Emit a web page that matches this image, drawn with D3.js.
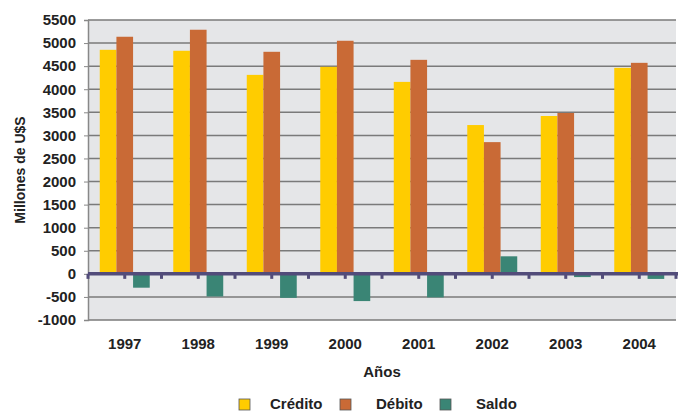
<!DOCTYPE html>
<html>
<head>
<meta charset="utf-8">
<script src="https://cdn.jsdelivr.net/npm/d3@7"></script>
<style>
  body { margin: 0; background: #fff; }
  text { font-family: "Liberation Sans", Arial, sans-serif; font-weight: bold; fill: #222; }
</style>
</head>
<body>
<div id="viz"></div>
<script>
const years = ['1997', '1998', '1999', '2000', '2001', '2002', '2003', '2004'];
const series = ['Crédito', 'Débito', 'Saldo'];
const credito = [4854, 4833, 4311, 4485, 4159, 3224, 3420, 4463];
const debito = [5137, 5289, 4811, 5050, 4637, 2854, 3485, 4572];
const saldo = [-300, -490, -520, -590, -510, 380, -70, -110];
const yTicks = [-1000, -500, 0, 500, 1000, 1500, 2000, 2500, 3000, 3500, 4000, 4500, 5000, 5500];

const width = 682;
const height = 412;
const margin = {top: 20, right: 6, bottom: 92, left: 88};
const colors = ['#ffcc00', '#c96a36', '#3a8575'];

const svg = d3.select('#viz')
  .append('svg')
  .attr('width', width)
  .attr('height', height);

const x = d3.scaleBand()
  .domain(years)
  .range([margin.left, width - margin.right])
  .paddingInner(0.32)
  .paddingOuter(0.16);

const xInner = d3.scaleBand()
  .domain(series)
  .range([0, x.bandwidth()]);

const y = d3.scaleLinear()
  .domain([-1000, 5500])
  .range([height - margin.bottom, margin.top]);

// plot background
svg.append('rect')
  .attr('x', margin.left)
  .attr('y', margin.top)
  .attr('width', width - margin.right - margin.left)
  .attr('height', y(-1000) - margin.top)
  .attr('fill', '#e5e6e8');

// gridlines
svg.append('g')
  .selectAll('line')
  .data(yTicks.filter(d => d !== 0))
  .join('line')
    .attr('x1', margin.left)
    .attr('x2', width - margin.right)
    .attr('y1', d => y(d))
    .attr('y2', d => y(d))
    .attr('stroke', '#7a7a7a')
    .attr('stroke-width', 1.5);

// y axis
const yAxis = svg.append('g')
  .attr('transform', `translate(${margin.left},0)`)
  .call(d3.axisLeft(y).tickValues(yTicks).tickFormat(d => String(d)).tickSize(4).tickPadding(8));
yAxis.select('.domain').attr('stroke', '#888').attr('stroke-width', 1.5);
yAxis.selectAll('.tick line').attr('stroke', '#888');
yAxis.selectAll('text')
  .attr('font-size', 15)
  .attr('font-family', '"Liberation Sans", Arial, sans-serif')
  .attr('font-weight', 'bold')
  .attr('fill', '#222');

// bars
const rows = years.map((yr, i) => ({year: yr, values: [credito[i], debito[i], saldo[i]]}));

svg.append('g')
  .selectAll('g')
  .data(rows)
  .join('g')
    .attr('transform', d => `translate(${x(d.year)},0)`)
  .selectAll('rect')
  .data(d => d.values.map((v, j) => ({key: series[j], value: v, idx: j})))
  .join('rect')
    .attr('x', d => xInner(d.key))
    .attr('width', xInner.bandwidth())
    .attr('y', d => y(Math.max(0, d.value)))
    .attr('height', d => Math.abs(y(d.value) - y(0)))
    .attr('fill', d => colors[d.idx]);

// zero line with ticks at half-category steps
const step = x.step();
const tickPos = d3.range(0, years.length * 2 + 1).map(i => margin.left + i * step / 2);
svg.append('g')
  .selectAll('rect')
  .data(tickPos)
  .join('rect')
    .attr('x', d => d - 1.5)
    .attr('y', y(0))
    .attr('width', 3)
    .attr('height', 5)
    .attr('fill', '#524c7a');
svg.append('line')
  .attr('x1', margin.left)
  .attr('x2', width - margin.right + 2)
  .attr('y1', y(0))
  .attr('y2', y(0))
  .attr('stroke', '#524c7a')
  .attr('stroke-width', 3.5);

// x labels
svg.append('g')
  .selectAll('text')
  .data(years)
  .join('text')
    .attr('x', d => x(d) + x.bandwidth() / 2)
    .attr('y', 349)
    .attr('text-anchor', 'middle')
    .attr('font-size', 15)
    .text(d => d);

svg.append('text')
  .attr('x', 382)
  .attr('y', 377)
  .attr('text-anchor', 'middle')
  .attr('font-size', 15)
  .text('Años');

svg.append('text')
  .attr('transform', `translate(25, ${(margin.top + y(-1000)) / 2}) rotate(-90)`)
  .attr('text-anchor', 'middle')
  .attr('font-size', 14)
  .text('Millones de U$S');

// legend
const legendX = [239, 340, 440];
const legend = svg.append('g')
  .selectAll('g')
  .data(series)
  .join('g')
    .attr('transform', (d, i) => `translate(${legendX[i]}, 399)`);
legend.append('rect')
  .attr('width', 11)
  .attr('height', 11)
  .attr('fill', (d, i) => colors[i])
  .attr('stroke', '#555')
  .attr('stroke-width', 0.8);
legend.append('text')
  .attr('x', (d, i) => i === 0 ? 31 : 36)
  .attr('y', 10)
  .attr('font-size', 15)
  .text(d => d);
</script>
</body>
</html>
